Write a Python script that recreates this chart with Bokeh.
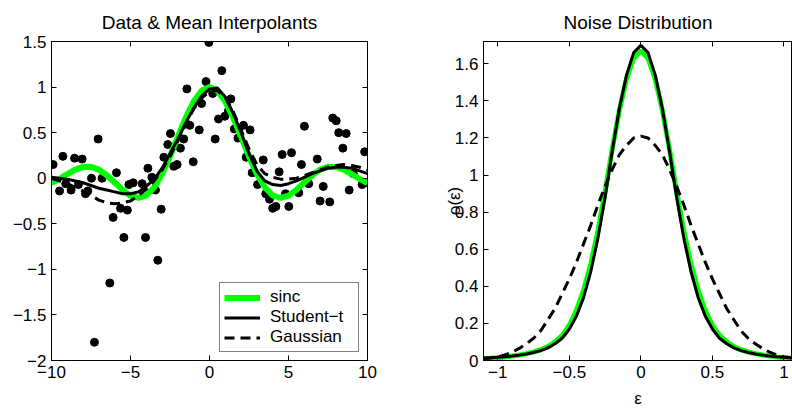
from bokeh.plotting import figure
from bokeh.layouts import row
from bokeh.models import LinearAxis, Legend, LegendItem, FixedTicker, Range1d
from bokeh.embed import file_html
from bokeh.resources import INLINE

# ---------------- data: left panel ----------------
data_x = [-9.9, -9.28, -9.49, -9.1, -8.76, -8.54, -8.06, -8.3, -7.85, -7.7,
          -7.05, -7.47, -6.8, -5.89, -6.1, -5.63, -5.2, -5.42, -4.05, -6.31,
          -7.28, -3.27, -3.06, -5.1, -4.83, -4.26, -3.9, -3.65, -2.89, -2.64,
          -2.47, -2.26, -2.05, -1.84, -1.43, -1.03, -1.25, -0.65, -0.22, -0.04,
          0.78, 0.36, 0.57, 0.97, 1.35, 1.57, 2.15, 2.57, 2.32, 2.70,
          3.40, 3.04, 4.41, 4.6, 5.19, 5.82, 6.01, 6.82, 7.2, 7.8,
          8.02, 8.18, 8.65, 8.44, 9.82, 8.84, 9.66, 10.0, 3.56, 3.8,
          4.81, 4.0, 4.2, 5.02, 5.65, 6.28, 7.0, 7.61, -3.42, -1.63,
          -0.5, 0.2, 1.2, 1.8, 9.1]
data_y = [0.15, 0.24, -0.14, -0.06, -0.13, 0.22, 0.21, -0.07, -0.17, -0.14,
          0.43, 0.0, 0.0, 0.06, -0.43, -0.33, -0.35, -0.65, -0.65, -1.15,
          -1.80, -0.90, -0.34, -0.07, -0.05, -0.06, 0.11, 0.01, 0.23, 0.37,
          0.49, 0.13, 0.15, 0.33, 0.98, 0.18, 0.58, 0.53, 1.06, 1.49,
          1.18, 0.43, 0.65, 0.68, 0.87, 0.54, 0.58, 0.53, 0.23, 0.06,
          0.20, -0.07, 0.07, 0.26, 0.28, 0.15, 0.57, 0.21, -0.09, 0.66,
          0.63, 0.50, 0.49, 0.33, 0.29, -0.13, -0.07, -0.05, -0.17, -0.23,
          -0.17, -0.33, -0.31, -0.31, -0.16, -0.06, -0.25, -0.26, -0.13, 0.43,
          0.82, 0.93, 0.74, 0.44, 0.05]

curve_x = [-10, -9.5, -9, -8.5, -8, -7.5, -7, -6.5, -6, -5.5, -5, -4.5, -4, -3.5,
           -3, -2.5, -2, -1.5, -1, -0.5, 0, 0.5, 1, 1.5, 2, 2.5, 3, 3.5, 4, 4.5,
           5, 5.5, 6, 6.5, 7, 7.5, 8, 8.5, 9, 9.5, 10]
sinc_y = [-0.054, -0.008, 0.046, 0.094, 0.124, 0.125, 0.094, 0.033, -0.047, -0.128,
          -0.192, -0.217, -0.189, -0.100, 0.047, 0.239, 0.455, 0.665, 0.841, 0.959,
          1.0, 0.959, 0.841, 0.665, 0.455, 0.239, 0.047, -0.100, -0.189, -0.217,
          -0.192, -0.128, -0.047, 0.033, 0.094, 0.125, 0.124, 0.094, 0.046, -0.008, -0.054]
student_y = [0.01, 0.0, -0.01, -0.03, -0.05, -0.08, -0.11, -0.13, -0.15, -0.17,
             -0.17, -0.15, -0.09, -0.01, 0.11, 0.27, 0.43, 0.61, 0.77, 0.90,
             0.98, 0.99, 0.89, 0.71, 0.50, 0.27, 0.08, -0.03, -0.07, -0.08,
             -0.06, -0.03, 0.01, 0.05, 0.08, 0.11, 0.12, 0.12, 0.11, 0.08, 0.05]
gauss_y = [0.0, -0.03, -0.06, -0.10, -0.14, -0.19, -0.24, -0.27, -0.28, -0.27,
           -0.25, -0.19, -0.12, -0.03, 0.09, 0.24, 0.41, 0.59, 0.76, 0.88,
           0.95, 0.96, 0.89, 0.73, 0.53, 0.32, 0.15, 0.05, 0.01, -0.01,
           -0.01, 0.0, 0.03, 0.06, 0.09, 0.12, 0.14, 0.15, 0.14, 0.12, 0.09]

left_xticks = [-10, -5, 0, 5, 10]
left_xlabels = ["\u221210", "\u22125", "0", "5", "10"]
left_yticks = [-2, -1.5, -1, -0.5, 0, 0.5, 1, 1.5]
left_ylabels = ["\u22122", "\u22121.5", "\u22121", "\u22120.5", "0", "0.5", "1", "1.5"]

# ---------------- data: right panel ----------------
eps = [-1.1, -1.05, -1.0, -0.95, -0.9, -0.85, -0.8, -0.75, -0.7, -0.65, -0.6, -0.55,
       -0.5, -0.45, -0.4, -0.35, -0.3, -0.25, -0.2, -0.15, -0.1, -0.05, 0.0,
       0.05, 0.1, 0.15, 0.2, 0.25, 0.3, 0.35, 0.4, 0.45, 0.5, 0.55, 0.6, 0.65,
       0.7, 0.75, 0.8, 0.85, 0.9, 0.95, 1.0, 1.05, 1.1]
half_student = [1.70, 1.66, 1.54, 1.36, 1.13, 0.88, 0.66, 0.48, 0.34, 0.24, 0.17, 0.12,
                0.09, 0.068, 0.053, 0.043, 0.035, 0.029, 0.024, 0.020, 0.017, 0.015, 0.013]
half_sinc = [1.67, 1.63, 1.52, 1.35, 1.14, 0.91, 0.70, 0.52, 0.38, 0.27, 0.19, 0.135,
             0.10, 0.075, 0.058, 0.046, 0.037, 0.030, 0.024, 0.019, 0.015, 0.012, 0.010]
half_gauss = [1.21, 1.20, 1.16, 1.11, 1.03, 0.94, 0.84, 0.73, 0.63, 0.53, 0.44, 0.36,
              0.28, 0.22, 0.16, 0.12, 0.09, 0.065, 0.045, 0.03, 0.02, 0.014, 0.01]
noise_student = half_student[:0:-1] + half_student
noise_sinc = half_sinc[:0:-1] + half_sinc
noise_gauss = half_gauss[:0:-1] + half_gauss

right_xticks = [-1, -0.5, 0, 0.5, 1]
right_xlabels = ["\u22121", "\u22120.5", "0", "0.5", "1"]
right_yticks = [0, 0.2, 0.4, 0.6, 0.8, 1, 1.2, 1.4, 1.6]
right_ylabels = ["0", "0.2", "0.4", "0.6", "0.8", "1", "1.2", "1.4", "1.6"]

FONT = "Liberation Sans"
TICK_SIZE = "17px"
GREEN = "#00ff00"


def style_axis(ax, ticks, labels, show_labels=True):
    ax.ticker = FixedTicker(ticks=ticks)
    ax.major_tick_in = 5
    ax.major_tick_out = 0
    ax.minor_tick_in = 0
    ax.minor_tick_out = 0
    ax.axis_line_color = "black"
    ax.major_tick_line_color = "black"
    if show_labels:
        ax.major_label_overrides = dict(zip(ticks, labels))
        ax.major_label_text_font = FONT
        ax.major_label_text_color = "black"
        ax.major_label_standoff = 5
        ax.major_label_text_font_size = TICK_SIZE
    else:
        ax.major_label_text_color = None
        ax.major_label_text_font_size = "1px"
        ax.major_label_standoff = 0


def make_fig(title, xr, yr, width, mbl, mbr):
    p = figure(width=width, height=410, x_range=Range1d(*xr), y_range=Range1d(*yr),
               output_backend="svg", toolbar_location=None,
               min_border_left=mbl, min_border_right=mbr,
               min_border_top=41, min_border_bottom=48)
    p.title.text = title
    p.title.align = "center"
    p.title.text_font = FONT
    p.title.text_font_size = "19px"
    p.title.text_font_style = "normal"
    p.title.text_color = "black"
    p.title.standoff = 17
    p.xgrid.visible = False
    p.ygrid.visible = False
    p.outline_line_color = "black"
    p.outline_line_width = 1
    p.background_fill_color = "white"
    p.border_fill_color = "white"
    return p


# ---------------- left figure ----------------
p1 = make_fig("Data & Mean Interpolants", (-10, 10), (-2, 1.5), 407, 51, 40)
bottom1 = p1.xaxis[0]
left1 = p1.yaxis[0]
style_axis(bottom1, left_xticks, left_xlabels)
style_axis(left1, left_yticks, left_ylabels)
top1 = LinearAxis()
style_axis(top1, left_xticks, left_xlabels, show_labels=False)
p1.add_layout(top1, "above")
right1 = LinearAxis()
style_axis(right1, left_yticks, left_ylabels, show_labels=False)
p1.add_layout(right1, "right")

p1.scatter(data_x, data_y, size=8, color="black")
r_sinc = p1.line(curve_x, sinc_y, line_color=GREEN, line_width=6)
r_stu = p1.line(curve_x, student_y, line_color="black", line_width=3)
r_gau = p1.line(curve_x, gauss_y, line_color="black", line_width=3, line_dash="10 6")

legend = Legend(items=[LegendItem(label="sinc", renderers=[r_sinc]),
                       LegendItem(label="Student\u2212t", renderers=[r_stu]),
                       LegendItem(label="Gaussian", renderers=[r_gau])],
                location="bottom_right")
legend.label_text_font = FONT
legend.label_text_font_size = "17px"
legend.label_text_color = "black"
legend.glyph_width = 36
legend.glyph_height = 19
legend.label_height = 19
legend.label_width = 84
legend.label_standoff = 10
legend.spacing = 0
legend.padding = 4
legend.margin = 8
legend.border_line_color = "black"
legend.border_line_width = 1
legend.background_fill_alpha = 1.0
p1.add_layout(legend)

# ---------------- right figure ----------------
p2 = make_fig("Noise Distribution", (-1.1, 1.06), (0, 1.72), 385, 76, 0)
bottom2 = p2.xaxis[0]
left2 = p2.yaxis[0]
style_axis(bottom2, right_xticks, right_xlabels)
style_axis(left2, right_yticks, right_ylabels)
top2 = LinearAxis()
style_axis(top2, right_xticks, right_xlabels, show_labels=False)
p2.add_layout(top2, "above")
bottom2.axis_label = "\u03b5"
left2.axis_label = "\u03c1(\u03b5)"
for ax in (bottom2, left2):
    ax.axis_label_text_font = FONT
    ax.axis_label_text_font_size = "17px"
    ax.axis_label_text_font_style = "normal"
    ax.axis_label_text_color = "black"
bottom2.axis_label_standoff = 8
left2.axis_label_standoff = -12

p2.line(eps, noise_sinc, line_color=GREEN, line_width=5)
p2.line(eps, noise_student, line_color="black", line_width=3)
p2.line(eps, noise_gauss, line_color="black", line_width=3, line_dash="10 6")

layout = row(p1, p2)
open("out.html", "w").write(file_html(layout, INLINE))
